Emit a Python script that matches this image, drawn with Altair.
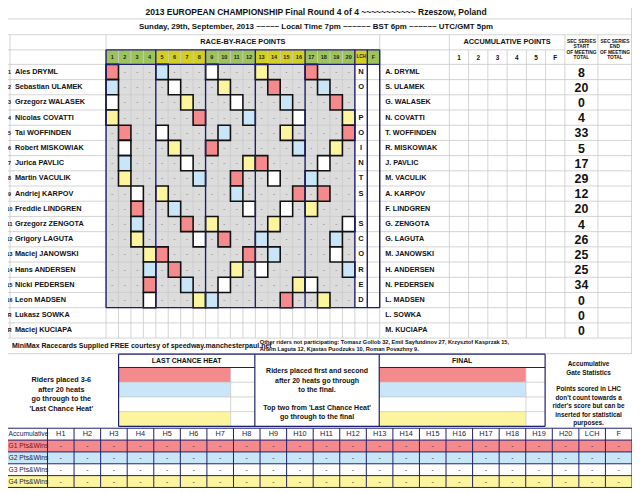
import altair as alt
import pandas as pd

# ----------------------------- data -----------------------------
title_text = "2013 EUROPEAN CHAMPIONSHIP Final Round 4 of 4 ~~~~~~~~~~~ Rzeszow, Poland"
subtitle_text = "Sunday, 29th, September, 2013 ~~~~~ Local Time 7pm ~~~~~~ BST 6pm ~~~~~~ UTC/GMT 5pm"

row_numbers = ["1", "2", "3", "4", "5", "6", "7", "8", "9", "10", "11", "12",
               "13", "14", "15", "16", "R", "R"]
rider_names = ["Ales DRYML", "Sebastian ULAMEK", "Grzegorz WALASEK", "Nicolas COVATTI",
               "Tai WOFFINDEN", "Robert MISKOWIAK", "Jurica PAVLIC", "Martin VACULIK",
               "Andriej KARPOV", "Freddie LINDGREN", "Grzegorz ZENGOTA", "Grigory LAGUTA",
               "Maciej JANOWSKI", "Hans ANDERSEN", "Nicki PEDERSEN", "Leon MADSEN",
               "Lukasz SOWKA", "Maciej KUCIAPA"]
short_names = ["A. DRYML", "S. ULAMEK", "G. WALASEK", "N. COVATTI", "T. WOFFINDEN",
               "R. MISKOWIAK", "J. PAVLIC", "M. VACULIK", "A. KARPOV", "F. LINDGREN",
               "G. ZENGOTA", "G. LAGUTA", "M. JANOWSKI", "H. ANDERSEN", "N. PEDERSEN",
               "L. MADSEN", "L. SOWKA", "M. KUCIAPA"]
sec_start_totals = [8, 20, 0, 4, 33, 5, 17, 29, 12, 20, 4, 26, 25, 25, 34, 0, 0, 0]

heat_labels = ["1", "2", "3", "4", "5", "6", "7", "8", "9", "10", "11", "12", "13",
               "14", "15", "16", "17", "18", "19", "20", "LCH", "F"]
rider_heats = [
    [1, 5, 9, 13, 17], [1, 6, 10, 14, 18], [1, 7, 11, 15, 19], [1, 8, 12, 16, 20],
    [2, 5, 10, 15, 20], [2, 6, 9, 16, 19], [2, 7, 12, 13, 18], [2, 8, 11, 14, 17],
    [3, 5, 11, 16, 18], [3, 6, 12, 15, 17], [3, 7, 9, 14, 20], [3, 8, 10, 13, 19],
    [4, 5, 12, 14, 19], [4, 6, 11, 13, 20], [4, 7, 10, 16, 17], [4, 8, 9, 15, 18],
]
# gate per heat: R = gate 1 (red), B = gate 2 (blue), W = gate 3 (white), Y = gate 4 (yellow)
rider_gates = ["RBWYR", "BWYRB", "WYWBR", "YRBWY", "RWBYR", "WYRBY", "BWYRW", "YBRWB",
               "WYBRR", "RBWWY", "BRYYW", "YWRBB", "YRRBW", "BRYWB", "RBWYW", "WYBRY"]
lch_column = ["N", "O", "", "P", "O", "I", "N", "T", "S", "", "S", "C", "O", "R", "E", "D"]
acc_labels = ["1", "2", "3", "4", "5", "F"]

footer_credit = "MiniMax Racecards Supplied FREE courtesy of speedway.manchesterpaul.net"
others_lines = ["Other riders not participating: Tomasz Gollob 32, Emil Sayfutdinov 27,  Krzysztof Kasprzak 15,",
                "Artem Laguta 12, Kjastas Puodzuks 10, Roman Povazhny 9."]
left_note = ["Riders placed 3-6", "after 20 heats", "go through to the", "'Last Chance Heat'"]
middle_note = ["Riders placed first and second", "after 20 heats go through", "to the final.", "",
               "Top two from 'Last Chance Heat'", "go through to the final"]
right_note = ["Accumulative", "Gate Statistics", "", "Points scored in LHC", "don't count towards a",
              "rider's score but can be", "inserted for statistical", "purposes."]

stat_rows = ["G1 Pts&Wins", "G2 Pts&Wins", "G3 Pts&Wins", "G4 Pts&Wins"]
stat_gate = ["R", "B", "W", "Y"]
stat_cols = ["H1", "H2", "H3", "H4", "H5", "H6", "H7", "H8", "H9", "H10", "H11", "H12",
             "H13", "H14", "H15", "H16", "H17", "H18", "H19", "H20", "LCH", "F"]

# ----------------------------- style / layout -----------------------------
gate_colors = {"R": "#f48a8b", "B": "#c8e6f7", "W": "#ffffff", "Y": "#fdf59e"}
GRID, NAVY, INK = "#c8c8c8", "#1e1e6e", "#111111"
GREEN, OLIVE, GREY = "#9dc45c", "#d2cf20", "#dcdcdc"
FONT = "Liberation Sans, Arial, sans-serif"

GX0, CW, NCOL = 107.3, 12.6, 22
GX1 = GX0 + NCOL * CW
Y_HD, Y_R0, RH, NROW = 47.3, 62.0, 15.4, 18
ACC_X0, ACC_W = 455.0, 19.5
SEC_MID = [588.75, 622.75]


def col_x(k):
    return GX0 + k * CW


def row_y(i):
    return Y_R0 + i * RH


fills, boxes, grid_lines, navy_lines, texts = [], [], [], [], []


def F(x, x2, y, y2, fill):
    fills.append(dict(x=x, x2=x2, y=y, y2=y2, fill=fill))


def L(store, x, x2, y, y2, color, sw):
    store.append(dict(x=x, x2=x2, y=y, y2=y2, color=color, sw=sw))


def T(x, y, s, size, align="center", weight="bold", color=INK, font=FONT):
    if s != "":
        texts.append(dict(x=x, y=y, text=s, size=size, align=align, weight=weight,
                          color=color, font=font))


# --- title rows
T(320, 8.5, title_text, 8.6)
T(320, 24.5, subtitle_text, 8.0)
T((GX0 + GX1) / 2, 39.8, "RACE-BY-RACE POINTS", 7.4)
T(ACC_X0 + 3 * ACC_W, 39.8, "ACCUMULATIVE POINTS", 7.4)
for cx, word in zip(SEC_MID, ["START", "END"]):
    for j, s in enumerate(["SEC SERIES", word, "OF MEETING", "TOTAL"]):
        T(cx, 39.5 + j * 5.4, s, 4.9)
for i, s in enumerate(acc_labels):
    T(ACC_X0 + (i + 0.5) * ACC_W, 55.2, s, 6.5)

# --- heat header cells
for k, lab in enumerate(heat_labels):
    if k < 20:
        col = GREEN if (k // 4) % 2 == 0 else OLIVE
    else:
        col = OLIVE if k == 20 else GREEN
    F(col_x(k), col_x(k + 1), Y_HD, Y_R0, col)
    T(col_x(k) + CW / 2, 55.0, lab, 4.6 if lab == "LCH" else 5.6, color="#222222")

# --- rider rows
for i in range(NROW):
    yc = row_y(i) + RH / 2
    T(9.6, yc, row_numbers[i], 5.4)
    T(15, yc, rider_names[i], 7.4, align="left")
    T(390, yc, short_names[i], 7.3, align="left")
    T(SEC_MID[0], yc + 0.6, str(sec_start_totals[i]), 12.5)
    if i < 16:
        for k in range(20):
            h = k + 1
            if h in rider_heats[i]:
                g = rider_gates[i][rider_heats[i].index(h)]
                boxes.append(dict(x=col_x(k), x2=col_x(k + 1), y=row_y(i), y2=row_y(i + 1),
                                  fill=gate_colors[g], stroke="#111111", sw=1.6))
            else:
                F(col_x(k), col_x(k + 1), row_y(i), row_y(i + 1), GREY)
                T(col_x(k) + CW / 2, yc, "-", 6, weight="normal", color="#555555")
        T(col_x(20) + CW / 2, yc, lch_column[i], 7.6)

# --- light spreadsheet grid
for y in [0.5, 16, 32]:
    L(grid_lines, 0, 640, y, y, GRID, 0.8)
L(grid_lines, 0, 572, Y_HD, Y_HD, GRID, 0.8)
for i in range(NROW + 1):
    L(grid_lines, 0, 640, row_y(i), row_y(i), GRID, 0.8)
L(grid_lines, 0, 640, 355, 355, GRID, 0.8)
for x in [10, GX0, GX1, ACC_X0, ACC_X0 + 6 * ACC_W, 605.5]:
    L(grid_lines, x, x, 32, row_y(NROW), GRID, 0.8)
for k in range(1, NCOL):
    L(grid_lines, col_x(k), col_x(k), Y_HD, row_y(NROW), GRID, 0.8)
for j in range(1, 6):
    L(grid_lines, ACC_X0 + j * ACC_W, ACC_X0 + j * ACC_W, Y_HD, row_y(NROW), GRID, 0.8)
L(grid_lines, 639.5, 639.5, 0, 355, GRID, 0.8)

# --- navy frame of the heat grid
for y in [Y_HD, Y_R0, row_y(16)]:
    L(navy_lines, GX0, GX1, y, y, NAVY, 1.4)
for k in [0, 4, 8, 12, 16, 20, 21, 22]:
    L(navy_lines, col_x(k), col_x(k), Y_HD, row_y(16), NAVY, 1.4)

# --- footer row
T(12, 347, footer_credit, 7.1, align="left")
T(263, 343.5, others_lines[0], 5.7, align="left")
T(263, 350.2, others_lines[1], 5.7, align="left")

# --- last chance heat / final section
BX = [120, 258, 384, 552]
BY0, BYH, BRH = 355.5, 369.0, 14.9
BAND_END = {120: 233.5, 384: 532.6}
for r, g in enumerate(stat_gate):
    y0 = BYH + r * BRH
    for x0, x1 in [(120, 258), (384, 552)]:
        F(x0, BAND_END[x0], y0, y0 + BRH, gate_colors[g])
        L(grid_lines, x0, x1, y0 + BRH, y0 + BRH, GRID, 0.8)
for xb in BAND_END.values():
    L(grid_lines, xb, xb, BYH, BYH + 4 * BRH, GRID, 0.8)
BY1 = BYH + 4 * BRH
L(navy_lines, 120, 552, BY0, BY0, NAVY, 1.2)
L(navy_lines, 120, 552, BY1, BY1, NAVY, 1.2)
L(navy_lines, 120, 258, BYH, BYH, NAVY, 1.2)
L(navy_lines, 384, 552, BYH, BYH, NAVY, 1.2)
for x in BX:
    L(navy_lines, x, x, BY0, BY1, NAVY, 1.2)
T(189, 362.3, "LAST CHANCE HEAT", 7.0)
T(468, 362.3, "FINAL", 7.0)
for j, s in enumerate(left_note):
    T(62, 382 + j * 9.6, s, 7.3)
for j, s in enumerate(middle_note):
    T(321, 373 + j * 9.3, s, 7.1)
for j, s in enumerate(right_note):
    T(596, 365.5 + j * 8.6, s, 6.5)

# --- accumulative gate statistics table
SX0, SCW = 48.0, (640 - 48.0) / 22
SY0, SRH = 430.5, 12.0
for r, g in enumerate(stat_gate):
    y0 = SY0 + (r + 1) * SRH
    F(0, 640, y0, y0 + SRH, gate_colors[g])
    lab_col = "#7a1020" if g == "R" else "#1a1a4a"
    T(8.5, y0 + SRH / 2, stat_rows[r], 6.8, align="left", weight="normal", color=lab_col)
    for j in range(22):
        T(SX0 + (j + 0.5) * SCW, y0 + SRH / 2, "-", 7, weight="normal", color="#333333")
T(8.5, SY0 + SRH / 2, "Accumulative", 6.8, align="left", weight="normal", color="#1a1a4a")
for j, s in enumerate(stat_cols):
    T(SX0 + (j + 0.5) * SCW, SY0 + SRH / 2, s, 7.4, weight="normal", color="#1a1a4a")
for r in range(6):
    L(navy_lines, 0, 640, SY0 + r * SRH, SY0 + r * SRH, NAVY, 1.0)
for j in range(23):
    L(navy_lines, SX0 + j * SCW, SX0 + j * SCW, SY0, SY0 + 5 * SRH, NAVY, 1.0)

# ----------------------------- chart -----------------------------
XS = alt.Scale(domain=[8, 640], nice=False, zero=False)
YS = alt.Scale(domain=[8, 493], nice=False, zero=False, reverse=True)


def X():
    return alt.X("x:Q", scale=XS, axis=None)


def Y():
    return alt.Y("y:Q", scale=YS, axis=None)


layer_fill = alt.Chart(pd.DataFrame(fills)).mark_rect(strokeWidth=0).encode(
    x=X(), x2="x2:Q", y=Y(), y2="y2:Q", fill=alt.Fill("fill:N", scale=None))


def rule_layer(rows):
    return alt.Chart(pd.DataFrame(rows)).mark_rule().encode(
        x=X(), x2="x2:Q", y=Y(), y2="y2:Q",
        color=alt.Color("color:N", scale=None),
        strokeWidth=alt.StrokeWidth("sw:Q", scale=None))


layer_box = alt.Chart(pd.DataFrame(boxes)).mark_rect().encode(
    x=X(), x2="x2:Q", y=Y(), y2="y2:Q",
    fill=alt.Fill("fill:N", scale=None),
    stroke=alt.Stroke("stroke:N", scale=None),
    strokeWidth=alt.StrokeWidth("sw:Q", scale=None))

df_text = pd.DataFrame(texts)
text_layers = []
for (align, weight, font), g in df_text.groupby(["align", "weight", "font"]):
    text_layers.append(
        alt.Chart(g[["x", "y", "text", "size", "color"]]).mark_text(
            align=align, baseline="middle", fontWeight=weight, font=font).encode(
            x=X(), y=Y(), text="text:N",
            size=alt.Size("size:Q", scale=None),
            color=alt.Color("color:N", scale=None)))

chart = alt.layer(layer_fill, rule_layer(grid_lines), layer_box, rule_layer(navy_lines),
                  *text_layers).properties(
    width=632, height=485, padding=0,
    autosize=alt.AutoSizeParams(type="none"), background="white"
).configure_view(strokeWidth=0)

chart.save("out.html", embed_options={"renderer": "svg", "actions": False})
